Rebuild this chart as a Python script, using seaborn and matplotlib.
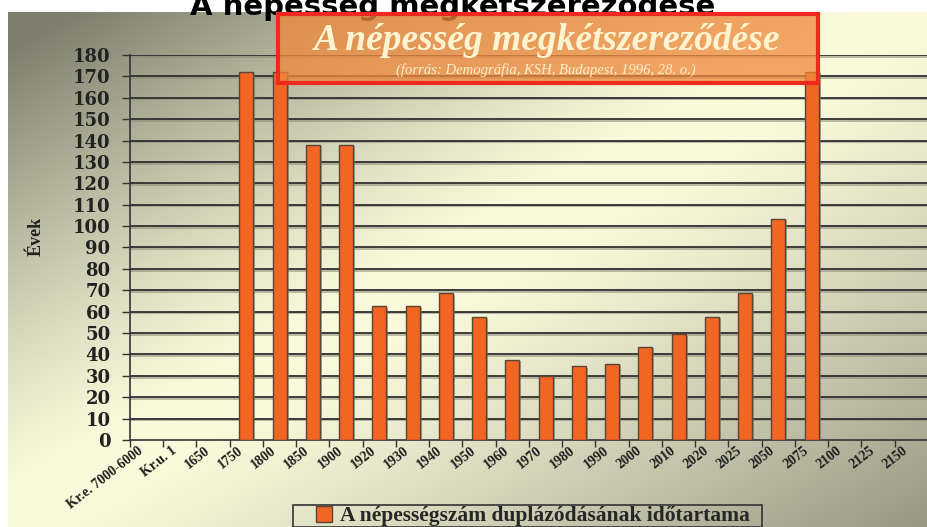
import numpy as np
import pandas as pd
import matplotlib
matplotlib.use("Agg")
import matplotlib.pyplot as plt
import matplotlib.patheffects as pe
import matplotlib.transforms as mtrans
from matplotlib.patches import Rectangle, Patch
import seaborn as sns

# data
periods = ["Kr.e. 7000-6000", "Kr.u. 1", "1650", "1750", "1800", "1850", "1900",
           "1920", "1930", "1940", "1950", "1960", "1970", "1980", "1990", "2000",
           "2010", "2020", "2025", "2050", "2075", "2100", "2125", "2150"]
doubling_years = [np.nan, np.nan, np.nan, 172, 172, 138, 138, 62.5, 62.5, 68.5,
                  57.5, 37.5, 30, 34.5, 35.5, 43.5, 49.5, 57.5, 68.5, 103.5, 172,
                  np.nan, np.nan, np.nan]
y_ticks = list(range(0, 181, 10))

title_top = "A népesség megkétszereződése"
box_title = "A népesség megkétszereződése"
box_source = "(forrás: Demográfia, KSH, Budapest, 1996, 28. o.)"
legend_label = "A népességszám duplázódásának időtartama"

df = pd.DataFrame({"period": periods, "years": doubling_years})

sns.set_style("white")
serif = ["Liberation Serif", "DejaVu Serif"]

W, H = 928, 527
fig = plt.figure(figsize=(W / 100, H / 100), dpi=100)
fig.patch.set_facecolor("white")

# diagonal slide background gradient
bg = fig.add_axes([8 / W, 0, 1 - 8 / W, 1 - 12 / H], zorder=-10)
xs = np.linspace(8, W, 400) / W
ys = np.linspace(12, H, 240) / H
gx, gy = np.meshgrid(xs, ys)
t = (gx + gy) / 2
dark_l = np.clip((0.47 - t) / 0.42, 0, 1) ** 1.2
dark_r = np.clip((t - 0.53) / 0.47, 0, 1) ** 1.2
light = np.array([249, 249, 219]) / 255
tl = np.array([126, 127, 108]) / 255
br = np.array([150, 150, 130]) / 255
img = (light * (1 - dark_l[..., None] - dark_r[..., None])
       + tl * dark_l[..., None] + br * dark_r[..., None])
bg.imshow(np.clip(img, 0, 1), aspect="auto", extent=[0, 1, 0, 1], origin="upper")
bg.axis("off")

ax = fig.add_axes([130 / W, (H - 440) / H, (W - 130) / W, (440 - 55) / H])
ax.set_facecolor("none")

sns.barplot(data=df, x="period", y="years", order=periods, color="#f26522",
            edgecolor="#5a4636", linewidth=1.0, width=0.42, errorbar=None,
            saturation=1, ax=ax, zorder=3)
for bar in ax.patches:
    bar.set_path_effects([pe.SimplePatchShadow(offset=(1.5, -1.0), shadow_rgbFace="#777766", alpha=0.6),
                          pe.Normal()])

ax.set_ylim(0, 180)
ax.set_xlim(-0.5, len(periods) - 0.5)
ax.set_yticks(y_ticks)
ax.set_yticklabels([str(v) for v in y_ticks], fontfamily="DejaVu Serif",
                   fontweight="bold", fontsize=13, color="#222222")
ax.tick_params(axis="y", length=6, width=1, color="#333333", pad=8, left=True)
for v in y_ticks[1:]:
    ax.axhline(v, color="#2e2e2e", lw=1.3, zorder=1,
               path_effects=[pe.SimpleLineShadow(offset=(0, -1.2), shadow_color="#888877", alpha=0.6), pe.Normal()])

ax.set_xticks(range(len(periods)))
ax.set_xticklabels(periods, rotation=38, ha="right", rotation_mode="anchor",
                   fontfamily=serif, fontweight="bold", fontsize=10, color="#1e1e1e")
ax.tick_params(axis="x", which="major", length=0, pad=3)
shift = mtrans.ScaledTranslation(-9 / 100, 0, fig.dpi_scale_trans)
for lab in ax.get_xticklabels():
    lab.set_transform(lab.get_transform() + shift)
ax.set_xticks(np.arange(-0.5, len(periods), 1), minor=True)
ax.tick_params(axis="x", which="minor", length=5, width=1, color="#333333", bottom=True)

ax.set_xlabel("")
ax.set_ylabel("")
for s in ["top", "right"]:
    ax.spines[s].set_visible(False)
for s in ["left", "bottom"]:
    ax.spines[s].set_color("#333333")
    ax.spines[s].set_linewidth(1.2)

fig.text(36 / W, 1 - 236 / H, "Évek", rotation=90, ha="center", va="center",
         fontfamily=serif, fontweight="bold", fontsize=13, color="#222222")

# slide title, cut off at the top edge
fig.text(453 / W, 1 - 15 / H, title_top, ha="center", va="baseline",
         fontfamily="DejaVu Sans", fontweight="bold", fontsize=21, color="black")

# orange caption box
box = Rectangle((278 / W, 1 - 83 / H), (818 - 278) / W, (83 - 14) / H,
                transform=fig.transFigure, facecolor="#f08a3c", alpha=0.75,
                edgecolor="none", zorder=5)
fig.patches.append(box)
frame = Rectangle((278 / W, 1 - 83 / H), (818 - 278) / W, (83 - 14) / H,
                  transform=fig.transFigure, facecolor="none",
                  edgecolor="#ee2a1e", lw=3, zorder=6)
fig.patches.append(frame)
fig.text(547 / W, 1 - 40 / H, box_title, ha="center", va="center",
         fontfamily=serif, fontstyle="italic", fontweight="bold",
         fontsize=27, color="#fff4d2", zorder=7)
fig.text(546 / W, 1 - 70 / H, box_source, ha="center", va="center",
         fontfamily=serif, fontstyle="italic", fontsize=10.5, color="#fff0cc", zorder=7)

# legend with a wider hand-drawn frame
handle = Patch(facecolor="#f26522", edgecolor="#5a4636", label=legend_label)
leg = fig.legend(handles=[handle], loc="center",
                 bbox_to_anchor=(533 / W, 1 - 516 / H), frameon=False,
                 prop={"family": serif, "weight": "bold", "size": 15.5},
                 handlelength=0.75, handleheight=0.75, handletextpad=0.4,
                 borderpad=0.1, borderaxespad=0)
legend_frame = Rectangle((293 / W, 0.5 / H), (762 - 293) / W, (527 - 505) / H,
                         transform=fig.transFigure, facecolor="none",
                         edgecolor="#333333", lw=1.2, zorder=4)
fig.patches.append(legend_frame)

fig.savefig("out.png", dpi=100)
